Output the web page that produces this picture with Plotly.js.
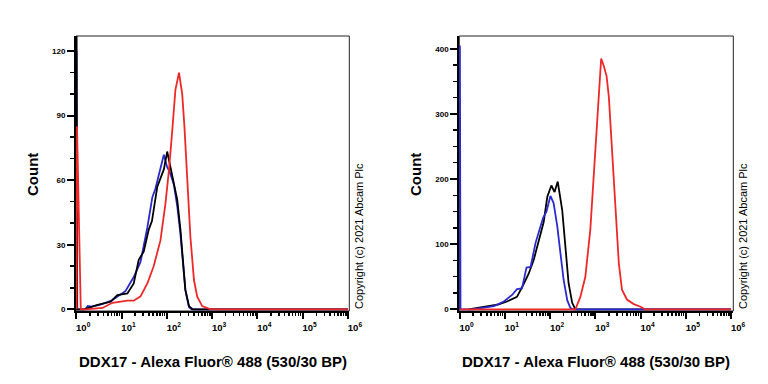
<!DOCTYPE html>
<html>
<head>
<meta charset="utf-8">
<script src="https://cdn.plot.ly/plotly-3.0.1.min.js"></script>
<style>html,body{margin:0;padding:0;background:#fff}#chart{width:768px;height:384px}</style>
</head>
<body>
<div id="chart"></div>
<script>
// ---------- data (x in fluorescence units, y = count) ----------
// Left panel
const leftBlueX  = [1.02, 1.02, 1.05, 1.58, 1.8, 2.2, 3.3, 6.0, 12.3, 18.6, 26.3, 37.2, 47.9, 56, 72.4, 86.1, 102, 115, 143, 170, 200, 229, 257, 309, 355, 1e6];
const leftBlueY  = [0, 120, 0, 0, 1.5, 1.2, 2, 4, 8.5, 15, 22, 38, 52, 56, 65, 71.8, 66, 64, 58, 48, 35, 21, 9, 1, 0, 0];
const leftBlackX = [1.02, 1.02, 1.05, 1.48, 2.95, 5.75, 8.1, 13.5, 18.6, 24, 30.9, 39.8, 47, 61.7, 72.4, 86.1, 102, 115, 143, 170, 200, 229, 257, 309, 372, 1e6];
const leftBlackY = [0, 127, 0, 0, 2, 3.5, 6.6, 7.4, 12, 23, 26.8, 36.9, 41, 57, 61, 65, 73.3, 68, 60, 51, 37, 21.5, 9, 1.5, 0, 0];
const leftRedX   = [1.02, 1.04, 1.26, 1.66, 3.8, 6.3, 13.5, 18.6, 26.3, 37.2, 51.3, 72.4, 93.3, 112, 132, 155, 186, 219, 245, 282, 331, 398, 468, 603, 933, 1e6];
const leftRedY   = [0, 85, 0, 0, 0.6, 3, 4, 4, 6, 12, 20, 32, 49, 65, 83, 102, 110, 100, 85, 60, 34, 13.6, 6, 1.5, 0, 0];
// Right panel
const rightBlueX  = [1.02, 1.02, 1.05, 2.0, 3.4, 5.75, 9.55, 14.5, 18.6, 24, 30.2, 37.2, 47.9, 61.7, 70, 83.2, 102, 120, 145, 170, 200, 240, 282, 331, 1e6];
const rightBlueY  = [0, 405, 0, 0, 2, 5, 12, 22, 31, 32, 64, 65, 102, 127, 140, 150, 174, 163, 127, 86, 45, 14, 2, 0, 0];
const rightBlackX = [1.58, 2.88, 4.8, 6.8, 11.2, 18.6, 26.3, 33.9, 43.7, 52.5, 72.4, 87.1, 107, 126, 148, 186, 219, 257, 309, 363, 1e6];
const rightBlackY = [0, 2.5, 5, 7, 12, 19, 39, 55, 76, 96, 134, 173, 190, 180, 196, 152, 96, 40, 10, 0, 0];
const rightRedX   = [1.02, 331, 363, 468, 603, 776, 955, 1096, 1349, 1549, 1778, 1995, 2344, 2818, 3311, 3890, 5012, 7079, 10000, 12589, 1e6];
const rightRedY   = [0, 0, 0, 19, 50, 122, 224, 301, 385, 373, 358, 326, 250, 157, 71, 30, 15, 8, 4, 0, 0];

const xTickVals = [1, 10, 100, 1000, 10000, 100000, 1000000];
const xTickText = ['10<sup>0</sup>', '10<sup>1</sup>', '10<sup>2</sup>', '10<sup>3</sup>', '10<sup>4</sup>', '10<sup>5</sup>', '10<sup>6</sup>'];
const xTitle = 'DDX17 - Alexa Fluor® 488 (530/30 BP)';
const yTitle = 'Count';
const copyright = 'Copyright (c) 2021 Abcam Plc';

// ---------- styling ----------
const BLUE = '#2a2ad0', BLACK = '#000000', RED = '#ee2828';
const FONT = 'Arial, Liberation Sans, sans-serif';
const minorVals = [];
for (let d = 0; d < 6; d++) for (let k = 2; k <= 9; k++) minorVals.push(k * Math.pow(10, d));

function line(x, y, color, xa, ya) {
  return {x: x, y: y, type: 'scatter', mode: 'lines', xaxis: xa, yaxis: ya, cliponaxis: true,
          line: {color: color, width: 1.8, shape: 'linear'}, hoverinfo: 'skip', showlegend: false};
}
const traces = [
  line(leftBlueX, leftBlueY, BLUE, 'x', 'y'),
  line(leftBlackX, leftBlackY, BLACK, 'x', 'y'),
  line(leftRedX, leftRedY, RED, 'x', 'y'),
  line(rightBlackX, rightBlackY, BLACK, 'x2', 'y2'),
  line(rightBlueX, rightBlueY, BLUE, 'x2', 'y2'),
  line(rightRedX, rightRedY, RED, 'x2', 'y2')
];
function xaxis(domain, anchor, range) {
  return {domain: domain, anchor: anchor, type: 'log', range: range,
    tickmode: 'array', tickvals: xTickVals, ticktext: xTickText,
    ticks: 'outside', ticklen: 6, tickwidth: 2, tickcolor: '#000',
    minor: {tickmode: 'array', tickvals: minorVals, ticks: 'outside', ticklen: 3, tickwidth: 1.5, tickcolor: '#000', showgrid: false},
    showline: true, linecolor: '#000', linewidth: 2, showgrid: false, zeroline: false,
    tickfont: {family: FONT, size: 9.5, color: '#000', weight: 'bold'}, ticklabelshift: 7, ticklabelstandoff: 1, fixedrange: true};
}
function yaxis(domain, anchor, range, dtick, mdtick) {
  return {domain: domain, anchor: anchor, range: range, tickmode: 'linear', tick0: 0, dtick: dtick,
    ticks: 'outside', ticklen: 7, tickwidth: 2, tickcolor: '#000',
    minor: {tickmode: 'linear', tick0: 0, dtick: mdtick, ticks: 'outside', ticklen: 4, tickwidth: 1.5, tickcolor: '#000', showgrid: false},
    showline: true, linecolor: '#000', linewidth: 2, showgrid: false, zeroline: false,
    tickfont: {family: FONT, size: 8, color: '#000', weight: 'bold'}, fixedrange: true};
}
const yDom = [73 / 384, 348 / 384];
function ann(text, x, y, size, angle, bold) {
  return {text: text, xref: 'paper', yref: 'paper', x: x / 768, y: 1 - y / 384, showarrow: false,
    textangle: angle, xanchor: 'center', yanchor: 'middle',
    font: {family: FONT, size: size, color: '#000', weight: bold ? 'bold' : 'normal'}};
}
const layout = {
  width: 768, height: 384, margin: {l: 0, r: 0, t: 0, b: 0},
  paper_bgcolor: '#fff', plot_bgcolor: '#fff',
  xaxis: xaxis([76 / 768, 349.3 / 768], 'y', [-0.005, 6.03]),
  yaxis: yaxis(yDom, 'x', [-0.8, 127], 30, 10),
  xaxis2: xaxis([459.3 / 768, 733.3 / 768], 'y2', [-0.005, 6.05]),
  yaxis2: yaxis(yDom, 'x2', [-2.6, 419.5], 100, 25),
  shapes: [
    {type: 'rect', xref: 'x domain', yref: 'y domain', x0: 0, x1: 1, y0: 0, y1: 1, line: {color: '#222', width: 1}, layer: 'below'},
    {type: 'rect', xref: 'x2 domain', yref: 'y2 domain', x0: 0, x1: 1, y0: 0, y1: 1, line: {color: '#222', width: 1}, layer: 'below'}
  ],
  annotations: [
    ann(xTitle, 213, 361, 15, 0, true),
    ann(xTitle, 596, 361, 15, 0, true),
    ann(yTitle, 32, 175, 15, -90, true),
    ann(yTitle, 415, 175, 15, -90, true),
    ann(copyright, 359, 236, 11, -90, false),
    ann(copyright, 743, 236, 11, -90, false)
  ]
};
Plotly.newPlot('chart', traces, layout, {staticPlot: true, displayModeBar: false});
</script>
</body>
</html>
